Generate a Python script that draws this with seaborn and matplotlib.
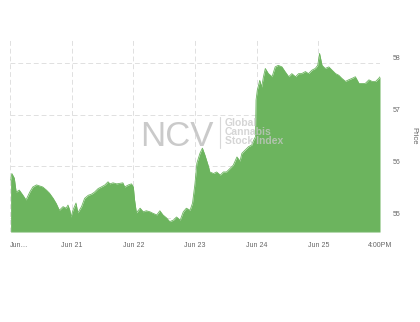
import matplotlib
matplotlib.use("Agg")
import matplotlib.pyplot as plt
import matplotlib.transforms as mtransforms
import seaborn as sns
import pandas as pd

# Time in days since Jun 20 00:00, price values
days = [0.01, 0.03, 0.07, 0.10, 0.15, 0.21, 0.26, 0.32, 0.37, 0.43, 0.48, 0.53, 0.59, 0.64,
        0.70, 0.75, 0.80, 0.86, 0.91, 0.94, 0.97, 0.99, 1.02, 1.07, 1.10, 1.16, 1.21, 1.27,
        1.32, 1.37, 1.43, 1.48, 1.54, 1.59, 1.62, 1.67, 1.73, 1.78, 1.83, 1.86, 1.92, 1.97,
        2.00, 2.02, 2.05, 2.11, 2.16, 2.21, 2.27, 2.32, 2.38, 2.43, 2.48, 2.54, 2.59, 2.65,
        2.70, 2.76, 2.81, 2.86, 2.92, 2.96, 3.00, 3.03, 3.08, 3.12, 3.16, 3.22, 3.24, 3.30,
        3.35, 3.41, 3.46, 3.51, 3.57, 3.62, 3.68, 3.73, 3.76, 3.81, 3.87, 3.92, 3.95, 3.98,
        3.99, 4.01, 4.05, 4.08, 4.11, 4.14, 4.19, 4.25, 4.30, 4.35, 4.41, 4.46, 4.52, 4.57,
        4.63, 4.68, 4.73, 4.79, 4.84, 4.90, 4.95, 4.99, 5.02, 5.06, 5.11, 5.17, 5.22, 5.28,
        5.33, 5.38, 5.44, 5.49, 5.55, 5.60, 5.66, 5.71, 5.76, 5.82, 5.87, 5.93, 5.98, 6.00]
price = [55.73, 55.86, 55.77, 55.50, 55.54, 55.44, 55.35, 55.50, 55.60, 55.64, 55.62, 55.60, 55.54, 55.48,
         55.38, 55.28, 55.15, 55.22, 55.19, 55.25, 55.15, 55.02, 55.15, 55.29, 55.10, 55.22, 55.38, 55.44,
         55.46, 55.50, 55.57, 55.60, 55.64, 55.70, 55.66, 55.68, 55.66, 55.67, 55.68, 55.60, 55.64, 55.66,
         55.60, 55.35, 55.10, 55.19, 55.12, 55.14, 55.12, 55.09, 55.06, 55.14, 55.06, 55.00, 54.93, 54.96,
         55.02, 54.96, 55.12, 55.19, 55.15, 55.29, 55.67, 56.06, 56.25, 56.35, 56.22, 55.99, 55.89, 55.86,
         55.89, 55.83, 55.89, 55.89, 55.96, 56.02, 56.18, 56.10, 56.25, 56.31, 56.38, 56.41, 56.50, 56.57,
         57.28, 57.47, 57.66, 57.53, 57.73, 57.89, 57.79, 57.73, 57.92, 57.95, 57.92, 57.83, 57.73, 57.79,
         57.73, 57.79, 57.79, 57.83, 57.79, 57.86, 57.89, 57.95, 58.18, 57.95, 57.89, 57.92, 57.86, 57.79,
         57.76, 57.70, 57.64, 57.67, 57.70, 57.73, 57.60, 57.60, 57.60, 57.67, 57.64, 57.64, 57.70, 57.73]

x_ticks = [0, 1, 2, 3, 4, 5, 6]
x_labels = ["Jun…", "Jun 21", "Jun 22", "Jun 23", "Jun 24", "Jun 25", "4:00PM"]
y_ticks = [55, 56, 57, 58]
y_labels = ["55", "56", "57", "58"]

GREEN = "#6cb45e"
sns.set_style("white")
plt.rcParams["font.family"] = ["Liberation Sans", "DejaVu Sans"]

fig = plt.figure(figsize=(4.2, 3.22), dpi=100)
ax = fig.add_axes([10 / 420, 1 - 232 / 322, 370 / 420, 192 / 322])

df = pd.DataFrame({"day": days, "price": price})
ymin, ymax = 54.73, 58.44
ax.fill_between(df["day"], df["price"], ymin, color=GREEN, linewidth=0, zorder=2)
sns.lineplot(data=df, x="day", y="price", ax=ax, color=GREEN, linewidth=0.6, zorder=3)

ax.set_xlim(0, 6)
ax.set_ylim(ymin, ymax)

for s in ax.spines.values():
    s.set_visible(False)
ax.axhline(ymin, color="#ccd6eb", lw=0.8, zorder=3)

ax.set_xticks(x_ticks)
ax.set_xticklabels(x_labels, fontsize=5, color="#666666")
ax.get_xticklabels()[0].set_ha("left")
ax.set_yticks(y_ticks)
ax.set_yticklabels(y_labels, fontsize=5, color="#666666")
ax.yaxis.tick_right()
ax.tick_params(axis="x", length=4, width=0.6, color="#ccd6eb", pad=3)
ax.tick_params(axis="y", length=0, pad=9)
offset = mtransforms.ScaledTranslation(0, 5 / 100, fig.dpi_scale_trans)
for lbl in ax.get_yticklabels():
    lbl.set_transform(lbl.get_transform() + offset)

ax.grid(True, color="#e0e0e0", linestyle=(0, (5, 3)), linewidth=0.7, zorder=0)
ax.set_axisbelow(True)

ax.set_xlabel("")
ax.yaxis.set_label_position("right")
ax.set_ylabel("Price", fontsize=5.5, color="#666666", rotation=270, labelpad=12)

# Watermark
fig.text(140 / 420, 1 - 146 / 322, "NCV", fontsize=25, color="#bdbdbd", alpha=0.8,
         ha="left", va="baseline", zorder=10)
fig.add_artist(plt.Line2D([220 / 420, 220 / 420], [1 - 148 / 322, 1 - 117 / 322],
                          color="#cfcfcf", lw=0.8, alpha=0.8, zorder=10))
fig.text(225 / 420, 1 - 132 / 322, "Global\nCannabis\nStock Index", fontsize=7.5,
         fontweight="bold", color="#c8c8c8", alpha=0.75, ha="left", va="center",
         linespacing=0.85, zorder=10)

fig.savefig("out.png", dpi=100)
